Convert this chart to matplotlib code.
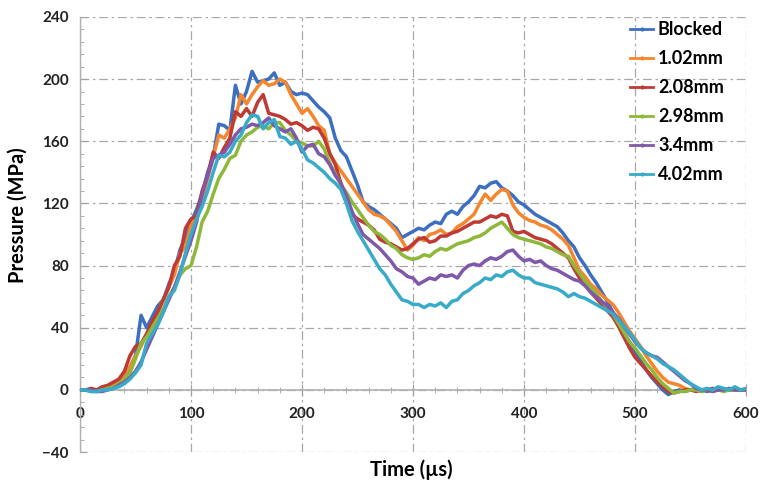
import numpy as np
import matplotlib
matplotlib.use('Agg')
import matplotlib.pyplot as plt
from matplotlib.lines import Line2D
from matplotlib.ticker import MultipleLocator

plt.rcParams['font.family'] = ['Lato', 'DejaVu Sans']
plt.rcParams['font.weight'] = 'bold'

# time axis in microseconds, 5 us step
time_us = np.arange(0, 601, 5)

labels = ['Blocked', '1.02mm', '2.08mm', '2.98mm', '3.4mm', '4.02mm']
colors = ['#3C6FC0', '#F5862E', '#BF3A33', '#8DB83A', '#8058A9', '#38ABC9']

blocked = [0, 0, -1, 0, 0, 1, 3, 5, 8, 14, 22, 48, 40, 47, 54, 58, 68, 76, 90, 98,
           108, 116, 126, 140, 150, 171, 170, 167, 196, 184, 192, 205, 198, 199, 200, 204, 196, 198, 192, 190,
           191, 190, 186, 182, 179, 175, 162, 154, 150, 141, 132, 121, 118, 116, 113, 110, 107, 104, 98, 100,
           102, 104, 103, 106, 108, 107, 113, 115, 113, 118, 121, 125, 131, 130, 133, 134, 130, 128, 125, 121,
           119, 116, 113, 111, 109, 107, 105, 101, 96, 92, 85, 80, 74, 69, 63, 57, 50, 44, 37, 31,
           25, 19, 13, 8, 4, 0, -3, -1, 0, -1, 0, 1, 0, -1, 0, 1, 0, 0, 1, 0,
           0]
mm102 = [0, 0, 0, -1, 0, 1, 3, 6, 10, 15, 22, 28, 36, 40, 50, 58, 66, 74, 88, 92,
         106, 112, 122, 136, 150, 164, 162, 168, 175, 190, 184, 190, 195, 199, 196, 197, 200, 198, 190, 184,
         178, 181, 176, 170, 167, 152, 146, 141, 136, 131, 126, 121, 116, 113, 112, 110, 106, 102, 96, 90,
         93, 98, 96, 100, 101, 103, 100, 101, 105, 107, 110, 113, 120, 126, 122, 126, 129, 128, 119, 114,
         111, 109, 108, 106, 105, 103, 100, 97, 93, 85, 77, 73, 68, 65, 61, 58, 55, 50, 44, 38,
         33, 28, 22, 17, 12, 8, 5, 4, 3, 1, 0, 0, -1, 0, 0, 1, 0, 0, 0, 0,
         0]
mm208 = [0, 0, 1, 0, 2, 3, 5, 7, 12, 22, 28, 30, 36, 44, 50, 58, 66, 80, 86, 104,
         110, 112, 128, 138, 153, 149, 156, 162, 179, 176, 181, 176, 185, 190, 178, 177, 176, 174, 171, 172,
         170, 167, 169, 168, 162, 152, 145, 133, 122, 113, 110, 108, 106, 103, 97, 95, 94, 92, 90, 91,
         94, 97, 98, 95, 96, 99, 99, 101, 102, 104, 106, 108, 108, 110, 112, 111, 113, 112, 102, 101,
         102, 100, 98, 97, 96, 94, 91, 88, 85, 78, 72, 68, 63, 59, 55, 51, 47, 41, 34, 27,
         21, 17, 13, 9, 5, 2, -1, -2, -1, 0, 0, -1, 0, 0, 1, 0, 0, 0, 0, 0,
         0]
mm298 = [0, 0, -1, -1, 0, 1, 2, 4, 7, 11, 20, 30, 34, 40, 46, 52, 60, 66, 74, 78,
         80, 92, 108, 115, 126, 136, 142, 149, 151, 160, 164, 166, 169, 170, 168, 172, 172, 167, 164, 160,
         159, 157, 157, 160, 155, 146, 139, 132, 127, 121, 116, 111, 106, 102, 100, 97, 93, 91, 87, 85,
         84, 85, 87, 86, 89, 91, 90, 92, 94, 95, 96, 98, 99, 101, 104, 106, 108, 104, 100, 98,
         97, 96, 95, 94, 92, 91, 89, 87, 86, 80, 75, 70, 66, 62, 57, 53, 49, 43, 37, 31,
         27, 22, 17, 13, 8, 4, 1, -2, -1, -1, 0, 0, -1, 0, -1, 0, -1, 0, 0, 0,
         0]
mm34 = [0, 0, 0, -1, -1, 0, 1, 3, 5, 8, 12, 18, 26, 34, 42, 50, 58, 66, 76, 86,
        96, 108, 126, 138, 149, 151, 153, 158, 164, 168, 169, 171, 170, 172, 175, 170, 168, 166, 168, 162,
        153, 157, 158, 152, 150, 145, 138, 133, 125, 115, 107, 100, 97, 94, 91, 87, 83, 78, 76, 73,
        72, 68, 70, 72, 71, 74, 73, 74, 72, 77, 80, 81, 80, 83, 85, 84, 86, 89, 90, 86,
        83, 84, 82, 83, 80, 78, 77, 75, 73, 71, 70, 67, 63, 60, 57, 54, 50, 46, 41, 36,
        31, 27, 24, 22, 21, 18, 15, 12, 9, 6, 4, 1, 0, 0, -1, 0, 0, 1, 0, 0,
        0]
mm402 = [0, 0, -1, -1, 0, 0, 1, 2, 4, 7, 11, 16, 30, 36, 42, 50, 60, 64, 74, 88,
         100, 110, 118, 128, 140, 151, 150, 153, 160, 164, 172, 177, 176, 168, 172, 174, 163, 162, 158, 160,
         155, 148, 146, 143, 140, 136, 133, 129, 120, 109, 102, 96, 90, 84, 78, 74, 68, 63, 58, 57,
         55, 55, 53, 55, 54, 56, 53, 57, 58, 62, 64, 67, 69, 72, 71, 74, 73, 76, 77, 74,
         72, 72, 69, 68, 67, 66, 65, 63, 60, 62, 60, 59, 57, 55, 53, 51, 49, 45, 41, 37,
         32, 27, 24, 22, 20, 17, 15, 13, 10, 7, 4, 2, 0, 1, 0, 2, 1, 0, 2, 0,
         1]

series = [blocked, mm102, mm208, mm298, mm34, mm402]

fig = plt.figure(figsize=(7.62, 4.83), dpi=100)
ax = fig.add_axes([0.105, 0.064, 0.874, 0.901])

for vals, c in zip(series, colors):
    ax.plot(time_us, vals, color=c, lw=2.5, solid_joinstyle='round', zorder=3)

ax.set_xlim(0, 600)
ax.set_ylim(-40, 240)
ax.xaxis.set_major_locator(MultipleLocator(100))
ax.xaxis.set_minor_locator(MultipleLocator(20))
ax.yaxis.set_major_locator(MultipleLocator(40))
ax.yaxis.set_minor_locator(MultipleLocator(8))

grid_col = '#A8A8A8'
ax.grid(True, which='major', color=grid_col, lw=0.9, linestyle=(0, (7, 3, 2, 3)))
for sp in ['top', 'right']:
    ax.spines[sp].set_visible(False)
ax.spines['bottom'].set_position(('data', 0))
ax.spines['bottom'].set_color('#B0B0B0')
ax.spines['bottom'].set_linewidth(1.2)
ax.spines['left'].set_color('#B0B0B0')
ax.spines['left'].set_linewidth(1.0)
ax.spines['bottom'].set_zorder(2)

ax.tick_params(axis='both', which='both', colors='#A0A0A0', labelcolor='#222222',
               labelsize=11)
ax.tick_params(axis='x', which='major', direction='inout', length=8, pad=8)
ax.tick_params(axis='x', which='minor', direction='inout', length=5)
ax.tick_params(axis='y', which='major', direction='in', length=5, pad=8)
ax.tick_params(axis='y', which='minor', direction='in', length=3)
for lab in ax.get_xticklabels() + ax.get_yticklabels():
    lab.set_fontweight('bold')

fig.text(18 / 762, 1 - 215 / 483, 'Pressure (MPa)', fontsize=14.5, fontweight='bold',
         rotation=90, ha='center', va='center')
fig.text(0.54, 1 - 470 / 483, 'Time (µs)', fontsize=14.5, fontweight='bold',
         ha='center', va='center')

handles = [Line2D([0], [0], color=c, lw=2, marker='.', markersize=4) for c in colors]
leg = fig.legend(handles, labels, loc='upper left', bbox_to_anchor=(630 / 762, 1 - 21 / 483),
                 frameon=False, handlelength=1.3, handletextpad=0.25,
                 borderpad=0, borderaxespad=0,
                 labelspacing=0.67, prop={'weight': 'bold', 'size': 13})

fig.savefig('out.png', dpi=100)
